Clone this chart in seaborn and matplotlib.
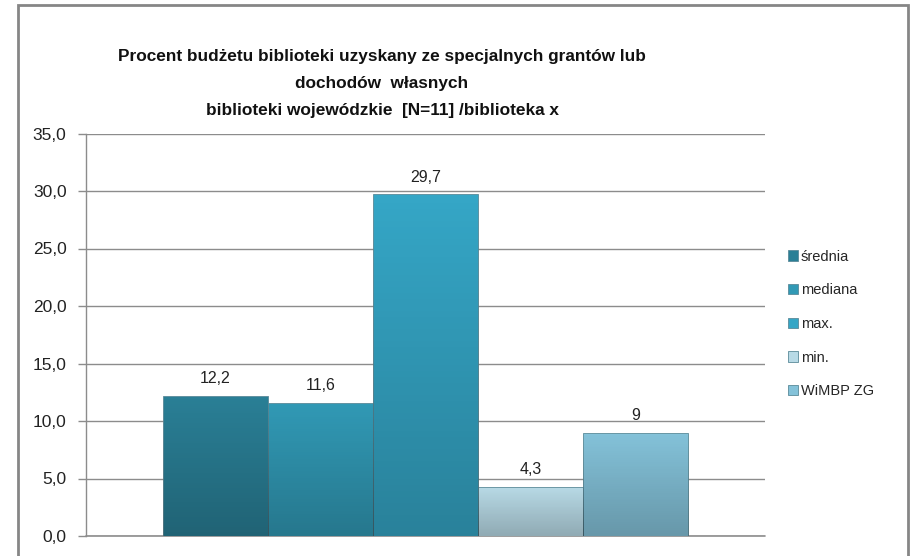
import matplotlib
matplotlib.use("Agg")
import matplotlib.pyplot as plt
import seaborn as sns
import pandas as pd
import numpy as np
from matplotlib.patches import Rectangle
from matplotlib.ticker import FuncFormatter

# ---- data ----
series = ["średnia", "mediana", "max.", "min.", "WiMBP ZG"]
values = [12.2, 11.6, 29.7, 4.3, 9.0]
colors = ["#2A7F96", "#3199B5", "#35A6C6", "#B8DAE6", "#84C2D9"]
title = ("Procent budżetu biblioteki uzyskany ze specjalnych grantów lub\n"
         "dochodów  własnych\n"
         "biblioteki wojewódzkie  [N=11] /biblioteka x")
yticks = [0, 5, 10, 15, 20, 25, 30, 35]

df = pd.DataFrame({"grp": [""] * len(series), "series": series, "value": values})

sns.set_style("white")
plt.rcParams["font.family"] = ["Liberation Sans", "DejaVu Sans"]

W, H = 914, 556
fig = plt.figure(figsize=(W / 100, H / 100), dpi=100)
ax = fig.add_axes([86 / W, 1 - 536 / H, (765 - 86) / W, (536 - 133.5) / H])

sns.barplot(data=df, x="grp", y="value", hue="series", hue_order=series,
            palette=colors, dodge=True, width=0.8, saturation=1,
            edgecolor="#5A8A99", linewidth=0.6, ax=ax, legend=True)

ax.set_xlim(-0.5173, 0.5173)
ax.set_ylim(0, 35)

# subtle vertical shading on every bar (darker toward the base)
shade = np.zeros((64, 2, 4))
shade[..., 3] = np.linspace(0.0, 0.22, 64)[:, None]
for cont in ax.containers:
    for b in cont:
        x0, y0 = b.get_x(), b.get_y()
        im = ax.imshow(shade, extent=(x0, x0 + b.get_width(), y0, y0 + b.get_height()),
                       origin="upper", aspect="auto", zorder=b.get_zorder() + 0.1,
                       interpolation="bilinear")
        im.set_clip_path(b)
ax.set_xlim(-0.5173, 0.5173)
ax.set_ylim(0, 35)

ax.set_yticks(yticks)
ax.yaxis.set_major_formatter(FuncFormatter(lambda v, p: f"{v:.1f}".replace(".", ",")))
ax.set_xticks([])
ax.set_xlabel("")
ax.set_ylabel("")
ax.grid(axis="y", color="#8C8C8C", linewidth=1)
ax.axhline(0, color="#8C8C8C", linewidth=1.2, clip_on=False, zorder=0.5)
ax.set_axisbelow(True)
for s in ["top", "right", "bottom"]:
    ax.spines[s].set_visible(False)
ax.spines["left"].set_color("#8C8C8C")
ax.spines["left"].set_linewidth(1)
ax.tick_params(axis="y", which="major", left=True, length=6, width=1,
               color="#8C8C8C", labelsize=12.5, labelcolor="#222222", pad=8)

# data labels
for cont in ax.containers:
    labs = [f"{b.get_height():g}".replace(".", ",") for b in cont]
    ax.bar_label(cont, labels=labs, padding=7, fontsize=11.5, color="#222222")

# legend
handles, labels = ax.get_legend_handles_labels()
ax.legend(handles, labels, loc="center left", bbox_to_anchor=(782 / W, 1 - 324 / H),
          bbox_transform=fig.transFigure, frameon=False, fontsize=10.5,
          handlelength=0.7, handleheight=0.7, handletextpad=0.2,
          labelspacing=1.35, borderaxespad=0)

fig.text(382 / W, 1 - 83.5 / H, title, ha="center", va="center", fontsize=12.4,
         fontweight="bold", linespacing=2.0, color="#111111")

# outer chart border
fig.patches.append(Rectangle((18 / W, -0.05), (908 - 18) / W, 1 - 5 / H + 0.05,
                             transform=fig.transFigure, fill=False,
                             edgecolor="#868686", linewidth=2))

fig.savefig("out.png", dpi=100)
